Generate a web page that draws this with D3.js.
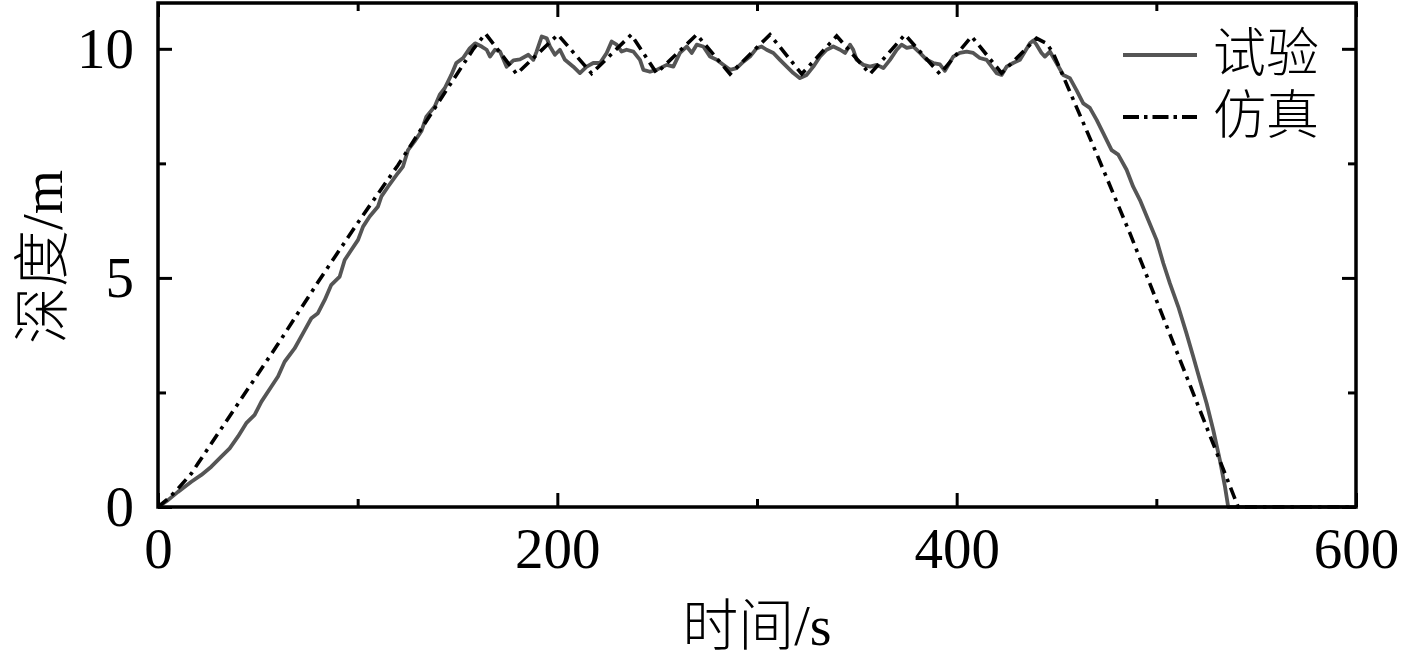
<!DOCTYPE html>
<html>
<head>
<meta charset="utf-8">
<script src="https://cdn.jsdelivr.net/npm/d3@7"></script>
<style>
  html, body { margin: 0; padding: 0; background: #fff; }
  svg { display: block; }
  text { font-family: "Liberation Serif", "Noto Sans CJK SC", serif; fill: #000; }
  .cjk { font-weight: 300; }
</style>
</head>
<body>
<svg id="chart" width="1417" height="660"></svg>
<script>
// ---- data ----
const expTime = [0,5,10,16.7,21.7,26.7,31.7,35.9,40.1,44.2,
  48.4,51.8,56.8,60.1,63.4,68.4,73.5,76.8,80.1,83.5,
  86.8,91,93.5,96.8,100.2,102.7,106,110.2,111.9,115.2,
  120.2,122.7,125.2,128.5,131.9,134.4,138.6,141.1,143.6,146.9,
  149.4,152.8,156.1,158.8,162.1,164.6,166.3,168.8,171.3,174.6,
  178,181.3,185.5,188,189.6,192.2,194.7,196.3,198.8,201.3,
  203.8,208,211.3,214.7,218,221.4,224.7,227.2,229.7,232.2,
  234.7,238.1,241.4,243.1,246.4,249.7,254.8,258.1,261.4,264.8,
  267.3,269.8,273.1,276.5,279.8,283.1,286.5,289.8,293.2,296.5,
  299.8,302.3,304.8,308.2,311.5,314.9,318.2,321.5,324.9,328.2,
  331.5,334.9,338.2,341.6,344.1,346.6,348.2,349.9,353.3,356.6,
  360,363.3,366.6,370,372.4,375,378.3,381.6,385,388.3,
  391.6,394.1,398.3,401.6,405,408.3,411.6,415,420,422.5,
  425,428.3,431.7,434.2,436.7,438.4,440,442.5,444.2,446.7,
  450,453.4,456.7,460,463.4,466.7,470.1,473.4,477.6,480.9,
  485.1,488.4,491.8,495.9,500.1,503.5,506.8,511,515.1,518.5,
  521.8,525.2,528.5,531.8,534.4,536,600];
const expDepth = [0,0.15,0.33,0.55,0.70,0.88,1.10,1.28,1.54,1.83,
  2.01,2.30,2.63,2.85,3.17,3.46,3.86,4.12,4.23,4.52,
  4.85,5.03,5.39,5.61,5.83,6.12,6.34,6.56,6.78,6.99,
  7.29,7.43,7.79,7.98,8.20,8.52,8.74,9.00,9.14,9.43,
  9.69,9.80,10.01,10.12,10.05,9.98,9.83,9.98,9.94,9.61,
  9.75,9.77,9.87,9.76,9.94,10.27,10.23,10.05,9.87,9.98,
  9.76,9.61,9.47,9.61,9.69,9.69,9.91,10.16,10.09,9.94,
  9.98,9.94,9.76,9.54,9.50,9.54,9.65,9.61,9.91,10.05,
  9.91,10.09,10.05,9.83,9.76,9.65,9.54,9.58,9.72,9.83,
  10.01,10.05,9.98,9.91,9.76,9.61,9.47,9.36,9.43,9.61,
  9.83,9.98,10.05,9.98,9.91,10.09,9.98,9.76,9.65,9.61,
  9.65,9.58,9.76,9.98,10.09,10.02,10.05,9.91,9.76,9.69,
  9.66,9.52,9.83,9.91,9.94,9.91,9.80,9.76,9.47,9.43,
  9.61,9.69,9.76,9.94,10.12,10.18,10.09,9.91,9.83,9.94,
  9.69,9.43,9.36,9.1,8.81,8.71,8.45,8.16,7.79,7.69,
  7.36,6.99,6.70,6.27,5.83,5.32,4.88,4.37,3.79,3.28,
  2.77,2.26,1.68,1.03,0.44,0,0];

const simTime = [0,5,10,16.7,20,40,60,80,100,120,140,158,164,179.6,200.3,217.2,237,249.7,
  269.8,286.5,306.5,322.4,339.9,356.6,374.1,391.6,407.5,422.5,440,445,448.4,470,487,541,600];
const simDepth = [0,0.18,0.4,0.73,0.95,2.25,3.55,4.9,6.2,7.45,8.8,10.0,10.33,9.45,10.31,9.46,10.31,9.47,
  10.31,9.45,10.31,9.45,10.28,9.45,10.31,9.45,10.27,9.47,10.23,10.12,9.9,7.72,5.95,0,0];

const xMajorTicks = [0, 200, 400, 600];
const xMinorTicks = [100, 300, 500];
const yMajorTicks = [0, 5, 10];
const yMinorTicks = [2.5, 7.5];
const seriesNames = ["试验", "仿真"];
const xTitle = "时间/s";
const yTitle = "深度/m";

// ---- drawing ----
const svg = d3.select("#chart");
const L = 158, R = 1356, T = 3, B = 507;
const x = d3.scaleLinear().domain([0, 600]).range([L, R]);
const y = d3.scaleLinear().domain([0, 11]).range([B, T]);

const expData = expTime.map((t, i) => [t, expDepth[i]]);
const simData = simTime.map((t, i) => [t, simDepth[i]]);
const line = d3.line().x(d => x(d[0])).y(d => y(d[1]));

const plot = svg.append("g");
plot.append("path").datum(expData)
  .attr("d", line).attr("fill", "none")
  .attr("stroke", "#555").attr("stroke-width", 3.8)
  .attr("stroke-linejoin", "round");
plot.append("path").datum(simData)
  .attr("d", line).attr("fill", "none")
  .attr("stroke", "#000").attr("stroke-width", 3.6)
  .attr("stroke-dasharray", "12,6,3.5,6");

function styleAxis(g, fs) {
  g.select(".domain").remove();
  g.selectAll(".tick line").attr("stroke", "#000").attr("stroke-width", 3);
  g.selectAll(".tick text").attr("font-size", fs).attr("font-family", "Liberation Serif, serif").attr("fill", "#000");
}

// bottom
svg.append("g").attr("transform", `translate(0,${B})`)
  .call(d3.axisBottom(x).tickValues(xMajorTicks).tickSize(-14).tickPadding(21).tickFormat(d3.format("d")))
  .call(g => styleAxis(g, 57));
svg.append("g").attr("transform", `translate(0,${B})`)
  .call(d3.axisBottom(x).tickValues(xMinorTicks).tickSize(-8).tickFormat(""))
  .call(g => styleAxis(g, 57));
// top
svg.append("g").attr("transform", `translate(0,${T})`)
  .call(d3.axisTop(x).tickValues(xMajorTicks).tickSize(-14).tickFormat(""))
  .call(g => styleAxis(g, 57));
svg.append("g").attr("transform", `translate(0,${T})`)
  .call(d3.axisTop(x).tickValues(xMinorTicks).tickSize(-8).tickFormat(""))
  .call(g => styleAxis(g, 57));
// left
svg.append("g").attr("transform", `translate(${L},0)`)
  .call(d3.axisLeft(y).tickValues(yMajorTicks).tickSize(-14).tickPadding(24).tickFormat(d3.format("d")))
  .call(g => styleAxis(g, 57));
svg.append("g").attr("transform", `translate(${L},0)`)
  .call(d3.axisLeft(y).tickValues(yMinorTicks).tickSize(-8).tickFormat(""))
  .call(g => styleAxis(g, 57));
// right
svg.append("g").attr("transform", `translate(${R},0)`)
  .call(d3.axisRight(y).tickValues(yMajorTicks).tickSize(-14).tickFormat(""))
  .call(g => styleAxis(g, 57));
svg.append("g").attr("transform", `translate(${R},0)`)
  .call(d3.axisRight(y).tickValues(yMinorTicks).tickSize(-8).tickFormat(""))
  .call(g => styleAxis(g, 57));

// frame
svg.append("rect").attr("x", L).attr("y", T).attr("width", R - L).attr("height", B - T)
  .attr("fill", "none").attr("stroke", "#000").attr("stroke-width", 3.5);

// axis titles
svg.append("text").attr("class", "cjk").attr("x", (L + R) / 2).attr("y", 645)
  .attr("text-anchor", "middle").attr("font-size", 56).text(xTitle);
svg.append("text").attr("class", "cjk").attr("transform", `translate(62,257) rotate(-90)`)
  .attr("text-anchor", "middle").attr("font-size", 57).text(yTitle);

// legend
const legendY = [55, 117];
const legendStyles = [
  { stroke: "#555", dash: null },
  { stroke: "#000", dash: "16,5,3.5,5" }
];
seriesNames.forEach((name, i) => {
  const ln = svg.append("line").attr("x1", 1123).attr("x2", 1197)
    .attr("y1", legendY[i]).attr("y2", legendY[i])
    .attr("stroke", legendStyles[i].stroke).attr("stroke-width", 3.8);
  if (legendStyles[i].dash) ln.attr("stroke-dasharray", legendStyles[i].dash);
  svg.append("text").attr("class", "cjk").attr("x", 1213).attr("y", legendY[i] + 17)
    .attr("font-size", 53).text(name);
});
</script>
</body>
</html>
